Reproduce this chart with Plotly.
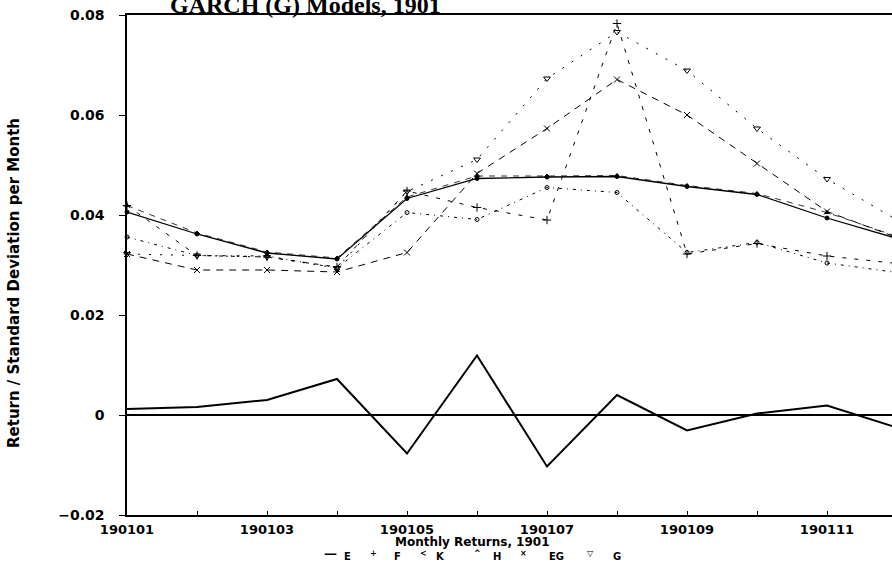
import plotly.graph_objects as go

# ---------------- data ----------------
months = list(range(1, 13))
tick_text = ["190101", "", "190103", "", "190105", "", "190107", "", "190109", "", "190111", ""]
y_tick_vals = [-0.02, 0, 0.02, 0.04, 0.06, 0.08]
y_tick_text = ["\u22120.02", "0", "0.02", "0.04", "0.06", "0.08"]

returns = [0.0012, 0.0016, 0.0030, 0.0072, -0.0077, 0.0119, -0.0103, 0.0040, -0.0031, 0.0003, 0.0019, -0.0025]

E = [0.0406, 0.0362, 0.0324, 0.0312, 0.0433, 0.0473, 0.0476, 0.0477, 0.0457, 0.0441, 0.0394, 0.0353]
F = [0.0419, 0.0319, 0.0316, 0.0296, 0.0448, 0.0415, 0.0390, 0.0783, 0.0322, 0.0343, 0.0318, 0.0303]
K = [0.0356, 0.0319, 0.0318, 0.0294, 0.0405, 0.0391, 0.0455, 0.0445, 0.0325, 0.0345, 0.0304, 0.0285]
H = [0.0419, 0.0364, 0.0326, 0.0314, 0.0436, 0.0478, 0.0478, 0.0479, 0.0459, 0.0443, 0.0405, 0.0357]
EG = [0.0322, 0.0290, 0.0290, 0.0286, 0.0325, 0.0483, 0.0573, 0.0671, 0.0600, 0.0503, 0.0407, 0.0355]
G = [0.0322, 0.0319, 0.0316, 0.0294, 0.0447, 0.0511, 0.0673, 0.0766, 0.0689, 0.0573, 0.0472, 0.0390]

series_names = ["E", "F", "K", "H", "EG", "G"]
series_vals = [E, F, K, H, EG, G]
legend_syms = ["\u2014", "+", "<", "^", "\u00d7", "\u25bd"]

title_text = "GARCH (G) Models, 1901"
x_title = "Monthly Returns, 1901"
y_title = "Return / Standard Deviation per Month"

# ---------------- styles ----------------
styles = {
    "E": dict(dash="solid", width=1.3, symbol="circle", msize=4),
    "F": dict(dash="4px,8px", width=1, symbol="cross-thin-open", msize=6),
    "K": dict(dash="3px,5px,1px,5px", width=1, symbol="circle-open", msize=4),
    "H": dict(dash="6px,6px", width=0.8, symbol="triangle-up", msize=4),
    "EG": dict(dash="7px,6px", width=1, symbol="x-thin-open", msize=6),
    "G": dict(dash="2px,9px", width=1, symbol="triangle-down-open", msize=6),
}

fig = go.Figure()

fig.add_trace(go.Scatter(
    x=months, y=returns, mode="lines", name="Return",
    line=dict(color="black", width=2), showlegend=False,
))

for name, vals in zip(series_names, series_vals):
    st = styles[name]
    fig.add_trace(go.Scatter(
        x=months, y=vals, mode="lines+markers", name=name,
        line=dict(color="black", width=st["width"], dash=st["dash"]),
        marker=dict(symbol=st["symbol"], size=st["msize"], color="black",
                    line=dict(color="black", width=1)),
        showlegend=False, cliponaxis=False,
    ))

L, R, T, B = 127, 0, 15, 49
W, Hh = 892, 564
plot_w = W - L - R
plot_h = Hh - T - B
px_per_month = 70.0
x_max = 1 + plot_w / px_per_month

fig.update_layout(
    width=W, height=Hh,
    margin=dict(l=L, r=R, t=T, b=B, pad=0),
    paper_bgcolor="white", plot_bgcolor="white",
    showlegend=False,
    xaxis=dict(
        range=[1, x_max], tickmode="array", tickvals=months, ticktext=tick_text,
        ticks="inside", ticklen=4, tickwidth=1, tickcolor="black",
        showline=True, linecolor="black", linewidth=2, mirror=True,
        showgrid=False, zeroline=False,
        tickfont=dict(family="DejaVu Sans", size=13, color="black", weight="bold"),
        ticklabelstandoff=1,
    ),
    yaxis=dict(
        range=[-0.02, 0.08], tickmode="array",
        tickvals=y_tick_vals, ticktext=y_tick_text,
        ticks="outside", ticklen=6, tickwidth=1, tickcolor="black",
        showline=True, linecolor="black", linewidth=1.5, mirror=False,
        showgrid=False, zeroline=True, zerolinecolor="black", zerolinewidth=2,
        tickfont=dict(family="DejaVu Sans", size=14, color="black", weight="bold"),
        ticklabelstandoff=12,
    ),
)


def py(pix):
    """pixel row -> paper y"""
    return (T + plot_h - pix) / plot_h


def px(pix):
    """pixel column -> paper x"""
    return (pix - L) / plot_w


annotations = []
# title
annotations.append(dict(
    text=title_text, xref="paper", yref="paper",
    x=px(305), y=py(5), xanchor="center", yanchor="middle",
    showarrow=False, font=dict(family="Liberation Serif", size=24, color="black", weight="bold"),
))
# x title
annotations.append(dict(
    text=x_title, xref="paper", yref="paper",
    x=px(472), y=py(542), xanchor="center", yanchor="middle",
    showarrow=False, font=dict(family="DejaVu Sans", size=12, color="black", weight="bold"),
))
# y title
annotations.append(dict(
    text=y_title, xref="paper", yref="paper",
    x=px(14), y=py(283), xanchor="center", yanchor="middle",
    textangle=-90, showarrow=False,
    font=dict(family="DejaVu Sans", size=15, color="black", weight="bold"),
))
# legend
sym_x = [330, 373, 423, 477, 523, 590]
lab_x = [347, 397, 440, 497, 556, 617]
leg_y = 556
for sx, lx, sym, nm in zip(sym_x, lab_x, legend_syms, series_names):
    annotations.append(dict(
        text=sym, xref="paper", yref="paper",
        x=px(sx), y=py(leg_y - 3),
        xanchor="center", yanchor="middle", showarrow=False,
        font=dict(family="DejaVu Sans", size=8 if sym != "\u2014" else 13, color="black", weight="bold"),
    ))
    annotations.append(dict(
        text=nm, xref="paper", yref="paper",
        x=px(lx), y=py(leg_y),
        xanchor="center", yanchor="middle", showarrow=False,
        font=dict(family="DejaVu Sans", size=10, color="black", weight="bold"),
    ))
fig.update_layout(annotations=annotations)

fig.write_html("out.html")
